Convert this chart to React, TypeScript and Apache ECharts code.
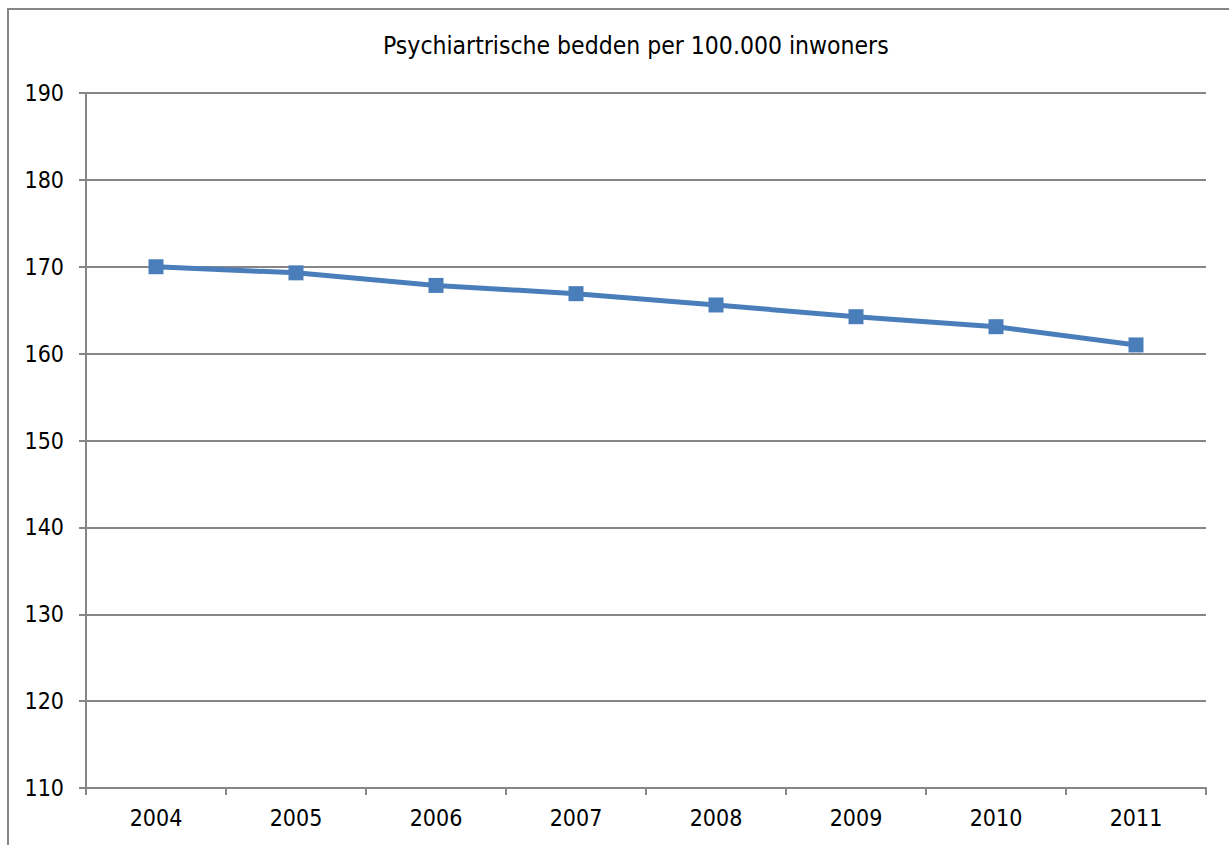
import React, { useEffect, useRef } from "react";
import * as echarts from "echarts";

const titleText = "Psychiartrische bedden per 100.000 inwoners";
const years = ["2004", "2005", "2006", "2007", "2008", "2009", "2010", "2011"];
const beds = [170.0, 169.3, 167.85, 166.9, 165.6, 164.25, 163.1, 161.0];
const yMin = 110;
const yMax = 190;
const yStep = 10;

const FONT = "'DejaVu Sans Condensed', 'DejaVu Sans', sans-serif";
const GRAY = "#868686";
const BLUE = "#4a7ebb";

export default function App() {
  const ref = useRef<HTMLDivElement>(null);
  useEffect(() => {
    if (!ref.current) return;
    const chart = echarts.init(ref.current, null, { renderer: "svg" });
    chart.setOption({
      animation: false,
      backgroundColor: "#ffffff",
      title: {
        text: titleText,
        left: 369,
        top: 18,
        textStyle: { fontFamily: FONT, fontSize: 24.5, fontWeight: "normal", color: "#000" },
      },
      grid: { left: 77, top: 83, right: 23, bottom: 57, containLabel: false },
      xAxis: {
        type: "category",
        data: years,
        boundaryGap: true,
        axisLine: { lineStyle: { color: GRAY, width: 2 } },
        axisTick: { show: true, length: 7, lineStyle: { color: GRAY, width: 2 } },
        axisLabel: { fontFamily: FONT, fontSize: 23, color: "#000", margin: 18 },
        splitLine: { show: false },
      },
      yAxis: {
        type: "value",
        min: yMin,
        max: yMax,
        interval: yStep,
        axisLine: { show: true, lineStyle: { color: GRAY, width: 2 } },
        axisTick: { show: true, length: 7, lineStyle: { color: GRAY, width: 2 } },
        axisLabel: { fontFamily: FONT, fontSize: 23, color: "#000", margin: 22 },
        splitLine: { show: true, lineStyle: { color: GRAY, width: 2 } },
      },
      series: [
        {
          type: "line",
          data: beds,
          symbol: "rect",
          symbolSize: 15,
          lineStyle: { color: BLUE, width: 5 },
          itemStyle: { color: BLUE },
          z: 5,
        },
      ],
    });
    return () => chart.dispose();
  }, []);
  return (
    <div
      style={{
        position: "fixed",
        left: 7,
        top: 8,
        width: 1222,
        height: 837,
        borderLeft: `2px solid ${GRAY}`,
        borderTop: `2px solid ${GRAY}`,
        overflow: "hidden",
      }}
    >
      <div ref={ref} style={{ width: 1220, height: 835 }} />
    </div>
  );
}
